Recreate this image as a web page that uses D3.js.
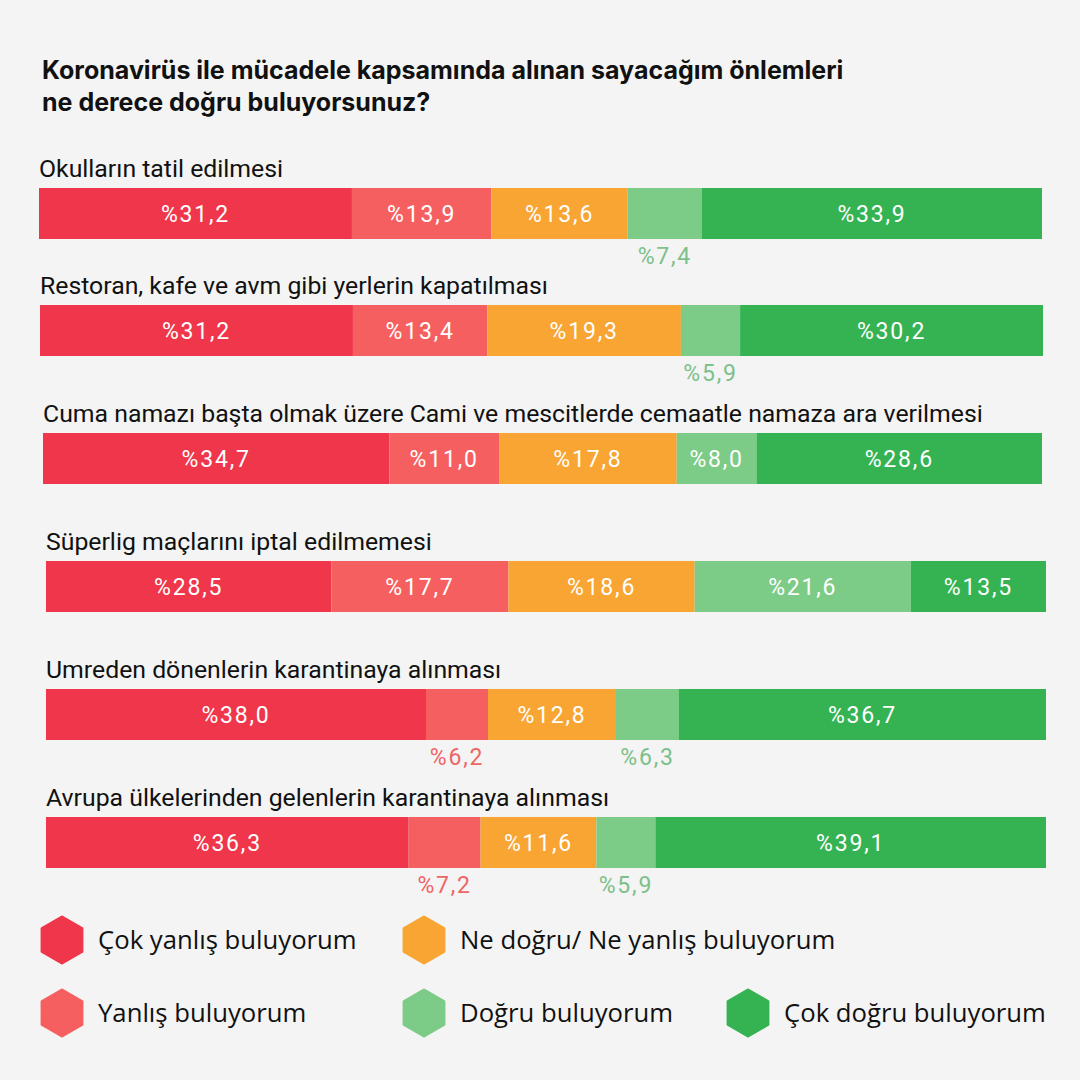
<!DOCTYPE html>
<html><head><meta charset="utf-8">
<script src="https://cdn.jsdelivr.net/npm/d3@7"></script>
<style>
html,body{margin:0;padding:0;background:#f4f4f4;}
svg{display:block;}
</style></head>
<body>
<svg id="chart" width="1080" height="1080"></svg>
<script>
// ---- data ----
const titleLines = ["Koronavirüs ile mücadele kapsamında alınan sayacağım önlemleri", "ne derece doğru buluyorsunuz?"];
const categories = [
  "Okulların tatil edilmesi",
  "Restoran, kafe ve avm gibi yerlerin kapatılması",
  "Cuma namazı başta olmak üzere Cami ve mescitlerde cemaatle namaza ara verilmesi",
  "Süperlig maçlarını iptal edilmemesi",
  "Umreden dönenlerin karantinaya alınması",
  "Avrupa ülkelerinden gelenlerin karantinaya alınması"
];
const seriesNames = ["Çok yanlış buluyorum", "Yanlış buluyorum", "Ne doğru/ Ne yanlış buluyorum", "Doğru buluyorum", "Çok doğru buluyorum"];
const veryWrong = [31.2, 31.2, 34.7, 28.5, 38.0, 36.3];
const wrong     = [13.9, 13.4, 11.0, 17.7, 6.2, 7.2];
const neutral   = [13.6, 19.3, 17.8, 18.6, 12.8, 11.6];
const right     = [7.4, 5.9, 8.0, 21.6, 6.3, 5.9];
const veryRight = [33.9, 30.2, 28.6, 13.5, 36.7, 39.1];

// ---- layout / style ----
const colors = ["#ef364a", "#f65f5f", "#f9a533", "#7ccb86", "#35b353"];
const labelColors = ["#ef364a", "#ee6565", "#f9a533", "#7cc08a", "#35b353"];
const rowTops = [188, 305, 433, 561, 689, 817];
const rowLeft = [39, 40, 43, 46, 46, 46];
const rowRight = [1042, 1043, 1042, 1046, 1046, 1046];
const barH = 51;
const insideMin = 7.5;

const svg = d3.select("#chart");
svg.append("rect").attr("width",1080).attr("height",1080).attr("fill","#f4f4f4");

const seriesVals = [veryWrong, wrong, neutral, right, veryRight];
const table = categories.map((c,i)=>{
  const row = {cat:c};
  seriesNames.forEach((s,k)=>row[s]=seriesVals[k][i]);
  return row;
});
const stacked = d3.stack().keys(seriesNames)(table);

const yScale = d3.scaleOrdinal().domain(categories).range(rowTops);
const color = d3.scaleOrdinal().domain(seriesNames).range(colors);
const lcolor = d3.scaleOrdinal().domain(seriesNames).range(labelColors);
const xScales = categories.map((c,i)=>{
  const tot = d3.sum(seriesVals, v=>v[i]);
  return d3.scaleLinear().domain([0,tot]).range([rowLeft[i], rowRight[i]]);
});

// title
svg.append("g").selectAll("text").data(titleLines).join("text")
  .attr("x",42).attr("y",(d,i)=>79+i*32)
  .attr("font-family","Inter, sans-serif").attr("font-weight",700)
  .attr("font-size",25).attr("fill","#111").text(d=>d);

// row labels
svg.append("g").selectAll("text").data(categories).join("text")
  .attr("x",(d,i)=>rowLeft[i]).attr("y",d=>yScale(d)-11)
  .attr("font-family","Roboto, sans-serif").attr("font-size",24.8)
  .attr("fill","#111").text(d=>d);

// bars
const g = svg.append("g");
stacked.forEach(layer=>{
  const key = layer.key;
  layer.forEach((seg,i)=>{
    const x = xScales[i];
    const x0 = x(seg[0]), x1 = x(seg[1]);
    const y = yScale(categories[i]);
    g.append("rect").attr("x",x0).attr("y",y).attr("width",x1-x0).attr("height",barH)
      .attr("fill",color(key));
    const v = seg[1]-seg[0];
    const lbl = "%" + d3.format(".1f")(v).replace(".",",");
    const inside = v >= insideMin;
    g.append("text").attr("x",(x0+x1)/2)
      .attr("y", inside ? y+barH/2+8 : y+barH+25)
      .attr("text-anchor","middle")
      .attr("font-family","Roboto, sans-serif").attr("font-size",23)
      .attr("letter-spacing",1.8)
      .attr("fill", inside ? "#fff" : lcolor(key))
      .text(lbl);
  });
});

// legend
const legendPos = [[62,940],[62,1013],[424,940],[424,1013],[748,1013]];
const hex = r => d3.range(6).map(k=>{const a=Math.PI/3*k - Math.PI/2; return [r*Math.cos(a), r*Math.sin(a)];});
const lg = svg.append("g").selectAll("g").data(seriesNames).join("g")
  .attr("transform",(d,i)=>`translate(${legendPos[i][0]},${legendPos[i][1]})`);
lg.append("path").attr("d", d3.line().curve(d3.curveLinearClosed)(hex(23)))
  .attr("fill",d=>color(d)).attr("stroke",d=>color(d)).attr("stroke-width",3).attr("stroke-linejoin","round");
lg.append("text").attr("x",36).attr("y",9)
  .attr("font-family","'Open Sans', sans-serif").attr("font-size",25.7)
  .attr("fill","#111").text(d=>d);
</script>
</body></html>
